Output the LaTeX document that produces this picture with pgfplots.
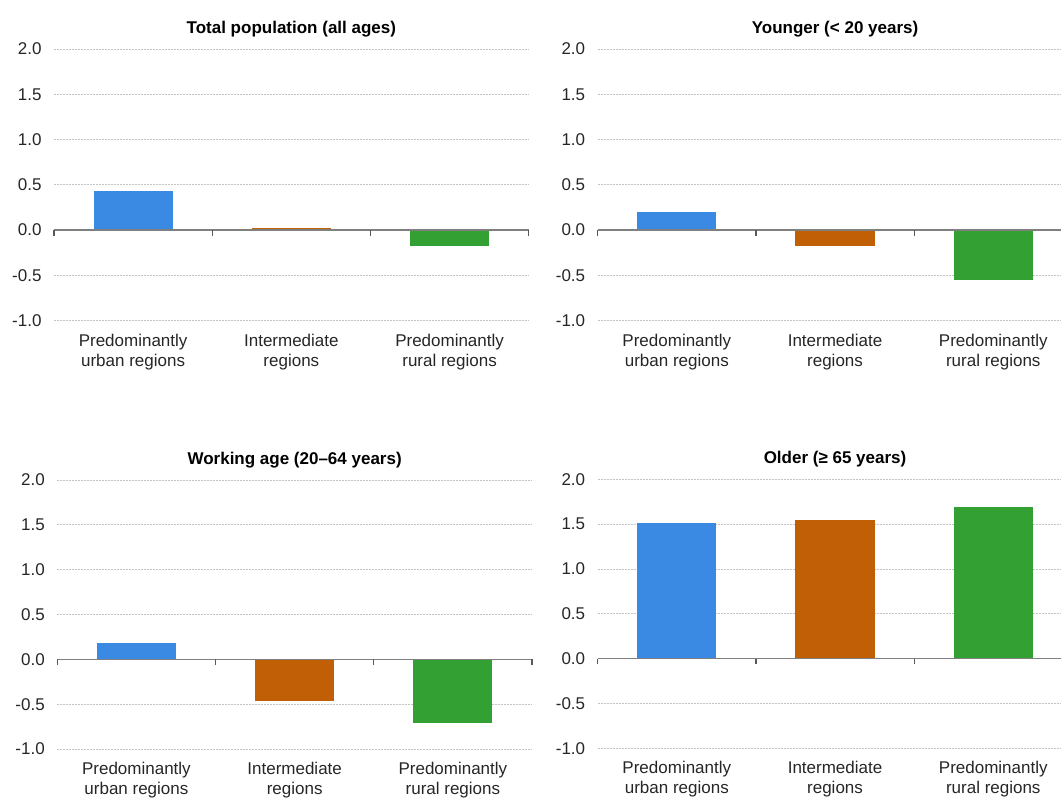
\documentclass[border=0pt]{standalone}
\usepackage{fontspec}
\setmainfont{Liberation Sans}
\usepackage{pgfplots}
\pgfplotsset{compat=1.18}

\definecolor{urban}{RGB}{58,137,226}
\definecolor{inter}{RGB}{192,95,5}
\definecolor{rural}{RGB}{51,160,51}
\definecolor{gridgrey}{RGB}{196,196,196}

\pgfplotsset{
  panel/.style={
    scale only axis,
    width=474.7pt, height=271.7pt,
    anchor=south west,
    xmin=0.5, xmax=3.5, ymin=-1, ymax=2,
    axis line style={draw=none},
    major tick length=0pt,
    ytick={-1,-0.5,0,0.5,1,1.5,2},
    xtick={1,2,3},
    xticklabels={Predominantly\\urban regions,Intermediate\\regions,Predominantly\\rural regions},
    ymajorgrids,
    grid style={gridgrey, line width=0.8pt, dash pattern=on 2pt off 1pt},
    tick label style={font=\fontsize{17}{20}\selectfont, text=black!85},
    xticklabel style={align=center, yshift=-9.5pt},
    yticklabel style={xshift=-9pt},
    /pgf/number format/fixed,
    /pgf/number format/fixed zerofill,
    /pgf/number format/precision=1,
    /pgf/number format/assume math mode=true,
    title style={at={(0.5,1)}, anchor=base, yshift=9.5pt,
      font=\bfseries\fontsize{17}{20}\selectfont},
    ybar, bar width=0.5,
    clip=false,
  },
  b/.style={fill=#1, draw=none, bar shift=0pt},
}

% baseline at zero with the small category separators
\newcommand{\zeroaxis}{%
  \draw[line width=1.6pt, black!50] (axis cs:0.5,0) -- (axis cs:3.5,0);
  \pgfplotsinvokeforeach{0.5,1.5,2.5,3.5}{%
    \draw[line width=1.2pt, black!65] (axis cs:##1,0) -- ++(0pt,-5.5pt);}%
}

\begin{document}
\begin{tikzpicture}
\useasboundingbox (0,0) rectangle (1061pt,-799pt);

\begin{axis}[panel, at={(54pt,-320.7pt)}, title={Total population (all ages)}]
  \addplot[b=urban] coordinates {(1,0.43)};
  \addplot[b=inter] coordinates {(2,0.02)};
  \addplot[b=rural] coordinates {(3,-0.17)};
  \zeroaxis
\end{axis}

\begin{axis}[panel, at={(597.7pt,-320.7pt)}, title={Younger (< 20 years)}]
  \addplot[b=urban] coordinates {(1,0.20)};
  \addplot[b=inter] coordinates {(2,-0.17)};
  \addplot[b=rural] coordinates {(3,-0.55)};
  \zeroaxis
\end{axis}

\begin{axis}[panel, at={(57.3pt,-749pt)}, height=269pt, title={Working age (20–64 years)}]
  \addplot[b=urban] coordinates {(1,0.18)};
  \addplot[b=inter] coordinates {(2,-0.46)};
  \addplot[b=rural] coordinates {(3,-0.71)};
  \zeroaxis
\end{axis}

\begin{axis}[panel, at={(597.7pt,-748.3pt)}, height=269pt, title={Older (≥ 65 years)}]
  \addplot[b=urban] coordinates {(1,1.51)};
  \addplot[b=inter] coordinates {(2,1.55)};
  \addplot[b=rural] coordinates {(3,1.69)};
  \zeroaxis
\end{axis}
\end{tikzpicture}
\end{document}
